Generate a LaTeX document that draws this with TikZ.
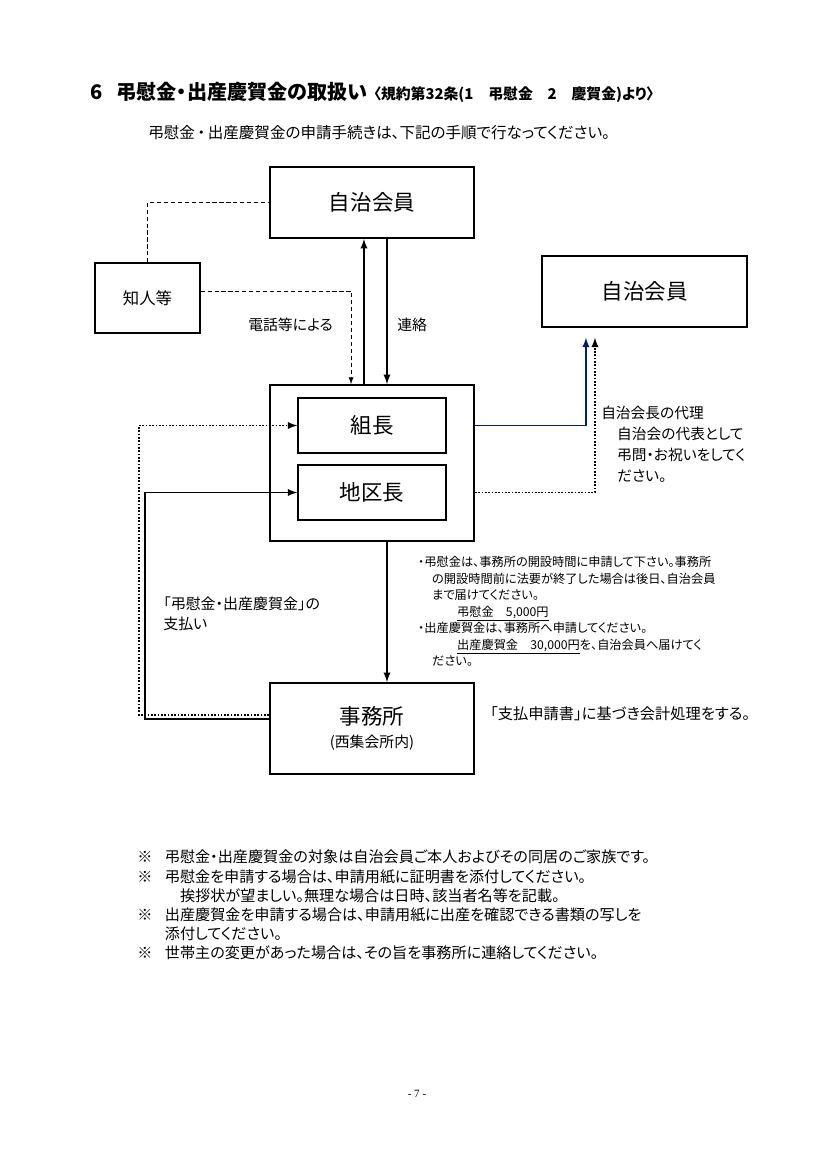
\documentclass[tikz,border=0pt]{standalone}
\usepackage{fontspec}
\setmainfont{Noto Sans CJK JP}[RawFeature=+palt]
\newfontfamily\pagefont{Liberation Serif}
\usetikzlibrary{arrows}
\definecolor{navy}{RGB}{0,32,110}
\newcommand{\boxlab}[1]{\fontsize{15.5}{18}\selectfont #1}
\newcommand{\midlab}[1]{\fontsize{11.8}{14}\selectfont #1}
\newcommand{\smalllab}[1]{\fontsize{10.7}{13}\selectfont #1}

\begin{document}
\begin{tikzpicture}[x=0.7207pt,y=-0.7207pt,every node/.style={inner sep=0pt},
  bigbox/.style={draw=black,line width=1.3pt,minimum width=147pt,align=center},
  smallbox/.style={draw=black,line width=0.9pt,minimum width=75.7pt,minimum height=50.4pt},
  innerbox/.style={draw=black,line width=0.9pt,minimum width=106.7pt,minimum height=39.6pt},
  link/.style={draw=black,line width=1.35pt,-latex},
  hint/.style={draw=black,line width=0.7pt,dash pattern=on 3pt off 2pt},
  dots/.style={draw=black,line width=1.35pt,dash pattern=on 1.2pt off 1.2pt}]
 \useasboundingbox (0,0) rectangle (826,1169);

 \draw (90,92) node[anchor=west] (title)
       {\bfseries\fontsize{14.5}{17}\selectfont 6\hspace{0.7em}弔慰金・出産慶賀金の取扱い\hspace{0.3em}%
        \fontsize{10.7}{13}\selectfont〈規約第32条(1　弔慰金　2　慶賀金)より〉};
 \draw (148,133) node[anchor=west] (intro)
       {\fontsize{11.2}{13}\selectfont 弔慰金\,・\,出産慶賀金の申請手続きは、下記の手順で行なってください。};

 \draw (372,202.5) node[bigbox,minimum height=51.2pt] (member) {\boxlab{自治会員}};
 \draw (147.5,298) node[smallbox] (friend) {\midlab{知人等}};
 \draw (644.5,291.5) node[bigbox,minimum width=147.7pt,minimum height=51.2pt] (member2)
       {\boxlab{自治会員}};
 \draw (372,463) node[bigbox,minimum height=112.4pt] (leaders) {};
 \draw (372,425.5) node[innerbox] (kumi) {\boxlab{組長}};
 \draw (372,492.5) node[innerbox] (chiku) {\boxlab{地区長}};
 \draw (372,728.5) node[bigbox,minimum height=65.6pt] (office)
       {\boxlab{事務所}\\[4pt]\smalllab{(西集会所内)}};

 \draw[hint] (friend.north) |- (member.west);
 \draw[hint,-latex] ([yshift=5pt]friend.east) -| ([xshift=-15.1pt]leaders.north);
 \draw[link] ([xshift=-5.8pt]leaders.north) -- ([xshift=-5.8pt]member.south);
 \draw[link] ([xshift=10.8pt]member.south) -- ([xshift=10.8pt]leaders.north);
 \draw (248,325) node[anchor=west] (phone) {\smalllab{電話等による}};
 \draw (397,325) node[anchor=west] (contact) {\smalllab{連絡}};

 \draw[link,draw=navy] (leaders.east |- kumi.east) -| ([xshift=-42.2pt,yshift=-7pt]member2.south);
 \draw[dots,-latex] (leaders.east |- chiku.east) -| ([xshift=-35.7pt,yshift=-7pt]member2.south);
 \draw (601,406) node[anchor=north west,align=left,font=\fontsize{10.6}{15.1}\selectfont] (proxy)
       {自治会長の代理\\
        \hspace*{11.5pt}自治会の代表として\\
        \hspace*{11.5pt}弔問・お祝いをしてく\\
        \hspace*{11.5pt}ださい。};

 \draw[link] ([xshift=10.8pt]leaders.south) -- ([xshift=10.8pt]office.north);
 \draw (418,556) node[anchor=north west,align=left,font=\fontsize{8.8}{11.9}\selectfont] (notes)
       {・弔慰金は、事務所の開設時間に申請して下さい。事務所\\
        \hspace*{10pt}の開設時間前に法要が終了した場合は後日、自治会員\\
        \hspace*{10pt}まで届けてください。\\
        \hspace*{28pt}\underline{弔慰金　5,000円}\\
        ・出産慶賀金は、事務所へ申請してください。\\
        \hspace*{28pt}\underline{出産慶賀金　30,000円}を、自治会員へ届けてく\\
        \hspace*{10pt}ださい。};

 \draw[dots,-latex] ([yshift=9.7pt]office.west) -- ++(-130,0) |- (kumi.west);
 \draw[link] ([yshift=6.8pt]office.west) -- ++(-124,0) |- (chiku.west);
 \draw (163,597) node[anchor=north west,align=left,font=\fontsize{10.8}{14.4}\selectfont] (payment)
       {「弔慰金・出産慶賀金」の\\支払い};
 \draw (490,714) node[anchor=west] (account)
       {\fontsize{11}{13}\selectfont 「支払申請書」に基づき会計処理をする。};

 \draw (137,849.3) node[anchor=north west] (remarks)
       {\fontsize{10.9}{13.8}\selectfont
        \begin{tabular}{@{}l@{\hspace{9pt}}l@{}}
         ※ & 弔慰金・出産慶賀金の対象は自治会員ご本人およびその同居のご家族です。\\
         ※ & 弔慰金を申請する場合は、申請用紙に証明書を添付してください。\\
            & \hspace*{11pt}挨拶状が望ましい。無理な場合は日時、該当者名等を記載。\\
         ※ & 出産慶賀金を申請する場合は、申請用紙に出産を確認できる書類の写しを\\
            & 添付してください。\\
         ※ & 世帯主の変更があった場合は、その旨を事務所に連絡してください。
        \end{tabular}};

 \draw (417,1094) node (page) {\pagefont\fontsize{8}{10}\selectfont - 7 -};
\end{tikzpicture}
\end{document}
